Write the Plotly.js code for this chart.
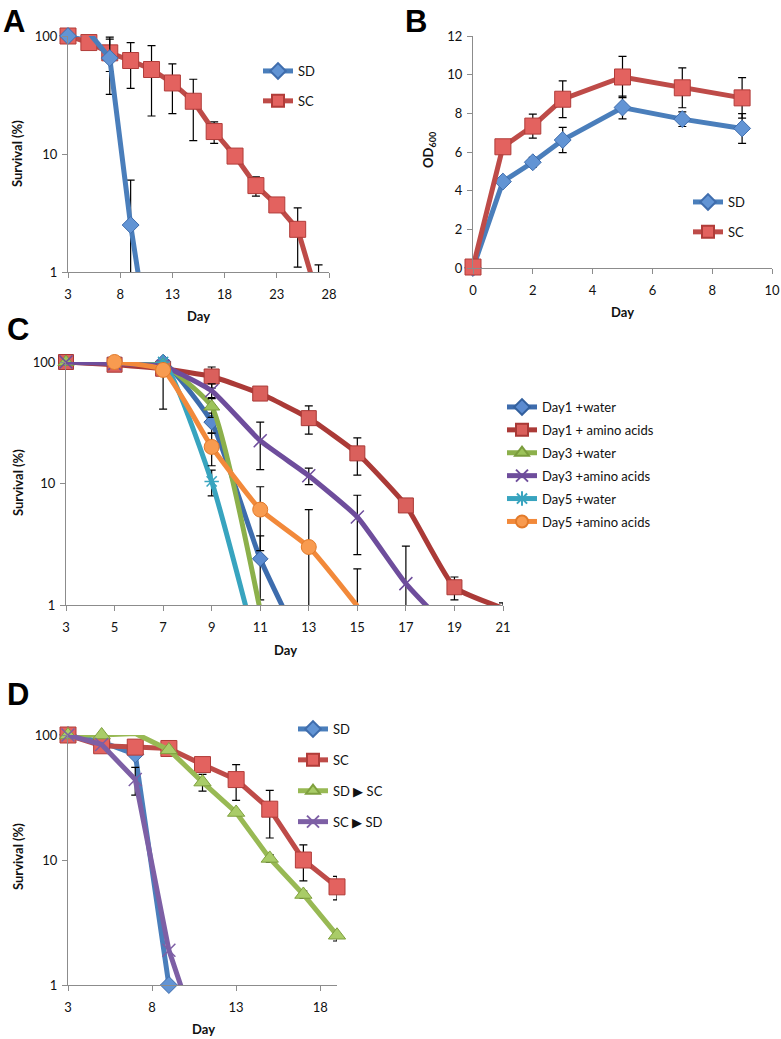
<!DOCTYPE html>
<html>
<head>
<meta charset="utf-8">
<script src="https://cdn.plot.ly/plotly-3.0.1.min.js"></script>
<style>html,body{margin:0;padding:0;background:#fff;}#chart{width:781px;height:1039px;}</style>
</head>
<body>
<div id="chart"></div>
<script>
// ---------- Panel A: survival, log scale ----------
const aSDDays  = [3, 5, 7, 9, 11];
const aSDSurv  = [100, 107, 65, 2.5, 0.18];
const aSDErr   = [NaN, NaN, 33, 3.5, NaN];
const aSCDays  = [3, 5, 7, 9, 11, 13, 15, 17, 19, 21, 23, 25, 27];
const aSCSurv  = [100, 88, 72, 62, 52, 40, 28, 15.5, 9.6, 5.4, 3.7, 2.3, 0.58];
const aSCErr   = [NaN, 8, 22, 26, 31, 18, 15, 3.2, NaN, 1.0, NaN, 1.2, 0.57];

// ---------- Panel B: OD600 growth ----------
const bDays    = [0, 1, 2, 3, 5, 7, 9];
const bSD      = [0, 4.47, 5.47, 6.62, 8.30, 7.70, 7.22];
const bSDErr   = [NaN, 0.15, 0.25, 0.65, 0.59, 0.38, 0.77];
const bSC      = [0.05, 6.27, 7.34, 8.73, 9.88, 9.32, 8.80];
const bSCErr   = [NaN, NaN, 0.62, 0.95, 1.07, 1.03, 1.05];

// ---------- Panel C: add-back experiments ----------
const cD1wDays = [3, 5, 7, 9, 11, 13];
const cD1w     = [100, 97, 100, 32, 2.4, 0.35];
const cD1wErr  = [NaN, NaN, NaN, 6, 1.3, NaN];
const cD1aDays = [3, 5, 7, 9, 11, 13, 15, 17, 19, 21];
const cD1a     = [100, 95, 88, 76, 55, 34.5, 17.7, 6.6, 1.4, 0.94];
const cD1aErr  = [NaN, 11, NaN, 15, NaN, 9, 6, NaN, 0.3, 0.1];
const cD3wDays = [3, 5, 7, 9, 11];
const cD3w     = [100, 100, 95, 43, 0.9];
const cD3wErr  = [NaN, NaN, NaN, 8, NaN];
const cD3aDays = [3, 5, 7, 9, 11, 13, 15, 17, 19];
const cD3a     = [100, 97, 92, 58, 22.5, 11.6, 5.3, 1.5, 0.57];
const cD3aErr  = [NaN, NaN, NaN, 8, 9.5, 1.8, 2.7, 1.55, NaN];
const cD5wDays = [5, 7, 9, 11];
const cD5w     = [100, 100, 10.4, 0.34];
const cD5wErr  = [NaN, NaN, 2.5, NaN];
const cD5aDays = [5, 7, 9, 11, 13, 15];
const cD5a     = [100, 86, 20, 6.1, 3.0, 0.98];
const cD5aErr  = [NaN, 45, 6, 3.3, 3.1, 1.0];

// ---------- Panel D: medium switch ----------
const dSDDays   = [3, 5, 7, 9];
const dSD       = [100, 88, 70, 1.0];
const dSDErr    = [NaN, NaN, NaN, NaN];
const dSCDays   = [3, 5, 7, 9, 11, 13, 15, 17, 19];
const dSC       = [100, 82, 80, 78, 58, 44, 25.5, 10, 6.1];
const dSCErr    = [NaN, 8, NaN, NaN, NaN, 14, 10.5, 3.2, 1.3];
const dSDSCDays = [3, 5, 7, 9, 11, 13, 15, 17, 19];
const dSDSC     = [100, 100, 103, 76, 42, 24, 10.3, 5.3, 2.5];
const dSDSCErr  = [NaN, NaN, NaN, NaN, 6.5, NaN, 0.7, 0.35, 0.25];
const dSCSDDays = [3, 5, 7, 9, 11];
const dSCSD     = [100, 84, 44, 1.9, 0.3];
const dSCSDErr  = [NaN, NaN, 11, NaN, NaN];

// ---------- tick labels ----------
const logTickVals = [1, 10, 100];
const logTickText = ['1', '10', '100'];

const W = 781, H = 1039;
const FONT = 'Lato, "Liberation Sans", sans-serif';
const px = v => v / W;
const py = v => 1 - v / H;

function series(xs, ys, err, o) {
  // hide markers for points that fall below the log axis floor
  const sizes = ys.map(v => (o.log && v < 0.999) ? 0 : o.size);
  return {
    type: 'scatter', mode: 'lines+markers', name: o.name,
    x: xs, y: ys, xaxis: o.xa, yaxis: o.ya,
    legend: o.legend, legendgroup: o.name + o.legend, legendrank: o.rank || 1000,
    cliponaxis: false,
    line: {color: o.lc, width: 5, shape: o.spline ? 'spline' : 'linear', smoothing: 0.45},
    marker: {symbol: o.sym, size: sizes, color: o.mc, opacity: 1,
             line: {color: o.mlc || o.lc, width: o.mlw || 1}},
    error_y: {type: 'data', symmetric: true, array: err, color: '#000',
              thickness: 1.2, width: 4, visible: true}
  };
}

const traces = [
  // A (SC drawn first so the SD diamonds sit on top; legend keeps SD first)
  series(aSCDays, aSCSurv, aSCErr, {name: 'SC', xa: 'x', ya: 'y', legend: 'legend', log: true, rank: 2,
    lc: '#BE4B48', mc: '#E3625F', mlc: '#B13C39', sym: 'square', size: 16}),
  series(aSDDays, aSDSurv, aSDErr, {name: 'SD', xa: 'x', ya: 'y', legend: 'legend', log: true, rank: 1,
    lc: '#4A7EBB', mc: '#6294D4', mlc: '#3F6DAD', sym: 'diamond', size: 13}),
  // B
  series(bDays, bSD, bSDErr, {name: 'SD', xa: 'x2', ya: 'y2', legend: 'legend2',
    lc: '#4A7EBB', mc: '#6294D4', mlc: '#3F6DAD', sym: 'diamond', size: 13}),
  series(bDays, bSC, bSCErr, {name: 'SC', xa: 'x2', ya: 'y2', legend: 'legend2',
    lc: '#BE4B48', mc: '#E3625F', mlc: '#B13C39', sym: 'square', size: 16}),
  // C
  series(cD1wDays, cD1w, cD1wErr, {name: 'Day1 +water', xa: 'x3', ya: 'y3', legend: 'legend3', log: true, spline: true,
    lc: '#3D6CAD', mc: '#5B8BD0', mlc: '#33609E', sym: 'diamond', size: 12}),
  series(cD1aDays, cD1a, cD1aErr, {name: 'Day1 + amino acids', xa: 'x3', ya: 'y3', legend: 'legend3', log: true, spline: true,
    lc: '#AB3A37', mc: '#DA605C', mlc: '#A93936', sym: 'square', size: 15}),
  series(cD3wDays, cD3w, cD3wErr, {name: 'Day3 +water', xa: 'x3', ya: 'y3', legend: 'legend3', log: true, spline: true,
    lc: '#8CB04B', mc: '#9CC35A', mlc: '#7A9C3C', sym: 'triangle-up', size: 14}),
  series(cD3aDays, cD3a, cD3aErr, {name: 'Day3 +amino acids', xa: 'x3', ya: 'y3', legend: 'legend3', log: true, spline: true,
    lc: '#6E4D9C', mc: '#6E4D9C', mlc: '#6E4D9C', mlw: 1.5, sym: 'x-thin-open', size: 13}),
  series(cD5wDays, cD5w, cD5wErr, {name: 'Day5 +water', xa: 'x3', ya: 'y3', legend: 'legend3', log: true, spline: true,
    lc: '#38A4BF', mc: '#38A4BF', mlc: '#38A4BF', mlw: 1.5, sym: 'asterisk-open', size: 12}),
  series(cD5aDays, cD5a, cD5aErr, {name: 'Day5 +amino acids', xa: 'x3', ya: 'y3', legend: 'legend3', log: true, spline: true,
    lc: '#F2893A', mc: '#F89B50', mlc: '#E27A2A', sym: 'circle', size: 15}),
  // D
  series(dSDDays, dSD, dSDErr, {name: 'SD', xa: 'x4', ya: 'y4', legend: 'legend4', log: true,
    lc: '#4A7EBB', mc: '#6294D4', mlc: '#3F6DAD', sym: 'diamond', size: 13}),
  series(dSCDays, dSC, dSCErr, {name: 'SC', xa: 'x4', ya: 'y4', legend: 'legend4', log: true,
    lc: '#BE4B48', mc: '#E3625F', mlc: '#B13C39', sym: 'square', size: 16}),
  series(dSDSCDays, dSDSC, dSDSCErr, {name: 'SD \u25B6 SC', xa: 'x4', ya: 'y4', legend: 'legend4', log: true,
    lc: '#98B954', mc: '#A9CC68', mlc: '#7FA03E', sym: 'triangle-up', size: 15}),
  series(dSCSDDays, dSCSD, dSCSDErr, {name: 'SC \u25B6 SD', xa: 'x4', ya: 'y4', legend: 'legend4', log: true,
    lc: '#7D5FA5', mc: '#7D5FA5', mlc: '#7D5FA5', mlw: 1.5, sym: 'x-thin-open', size: 13})
];

const axBase = {
  showline: true, linecolor: '#8C8C8C', linewidth: 1, showgrid: false, zeroline: false,
  ticks: 'outside', ticklen: 5, tickcolor: '#8C8C8C', tickwidth: 1,
  tickfont: {family: FONT, size: 13, color: '#111'}, fixedrange: true
};
function xAx(d0, d1, r, t0, dt, anchor) {
  return Object.assign({}, axBase, {domain: [px(d0), px(d1)], range: r, tick0: t0, dtick: dt,
    anchor: anchor, ticklabelstandoff: 5});
}
function yAxLog(d0, d1, anchor) {
  return Object.assign({}, axBase, {domain: [py(d1), py(d0)], type: 'log', range: [0, 2],
    tickvals: logTickVals, ticktext: logTickText, anchor: anchor, ticklabelstandoff: 2});
}

function legendAt(x, y, gap) {
  return {x: px(x), y: py(y), xanchor: 'left', yanchor: 'top', bgcolor: 'rgba(0,0,0,0)',
    font: {family: FONT, size: 13, color: '#111'}, tracegroupgap: gap, itemsizing: 'constant',
    traceorder: 'grouped'};
}

const titleFont = {family: FONT, size: 13, color: '#111', weight: 'bold'};
function ann(text, x, y, angle, font) {
  return {text: text, x: px(x), y: py(y), xref: 'paper', yref: 'paper', showarrow: false,
    textangle: angle || 0, font: font || titleFont, xanchor: 'center', yanchor: 'middle'};
}
const letterFont = {family: '"Liberation Sans", Arial, sans-serif', size: 31, color: '#000', weight: 'bold'};

const layout = {
  width: W, height: H, margin: {l: 0, r: 0, t: 0, b: 0},
  paper_bgcolor: '#fff', plot_bgcolor: 'rgba(0,0,0,0)',
  showlegend: true, hovermode: false,
  xaxis:  xAx(68, 329, [3, 28], 3, 5, 'y'),
  yaxis:  yAxLog(36, 272, 'x'),
  xaxis2: xAx(473, 772, [0, 10], 0, 2, 'y2'),
  yaxis2: Object.assign({}, axBase, {domain: [py(268), py(36)], range: [0, 12], dtick: 2, anchor: 'x2', ticklabelstandoff: 2}),
  xaxis3: xAx(66, 503, [3, 21], 3, 2, 'y3'),
  yaxis3: yAxLog(362, 605, 'x3'),
  xaxis4: xAx(68, 337, [3, 19], 3, 5, 'y4'),
  yaxis4: yAxLog(735, 985, 'x4'),
  legend:  legendAt(258, 56, 10),
  legend2: legendAt(688, 187, 10),
  legend3: legendAt(502, 392, 3),
  legend4: legendAt(293, 714, 11),
  annotations: [
    ann('A', 14, 21, 0, letterFont), ann('B', 416, 21, 0, letterFont),
    ann('C', 18, 330, 0, letterFont), ann('D', 18, 694, 0, letterFont),
    ann('Survival (%)', 17, 154, -90), ann('Day', 198, 316),
    ann('OD<sub>600</sub>', 429, 150, -90), ann('Day', 622, 312),
    ann('Survival (%)', 18, 483, -90), ann('Day', 285, 650),
    ann('Survival (%)', 18, 857, -90), ann('Day', 203, 1029)
  ]
};

Plotly.newPlot('chart', traces, layout, {staticPlot: true, displayModeBar: false});
</script>
</body>
</html>
